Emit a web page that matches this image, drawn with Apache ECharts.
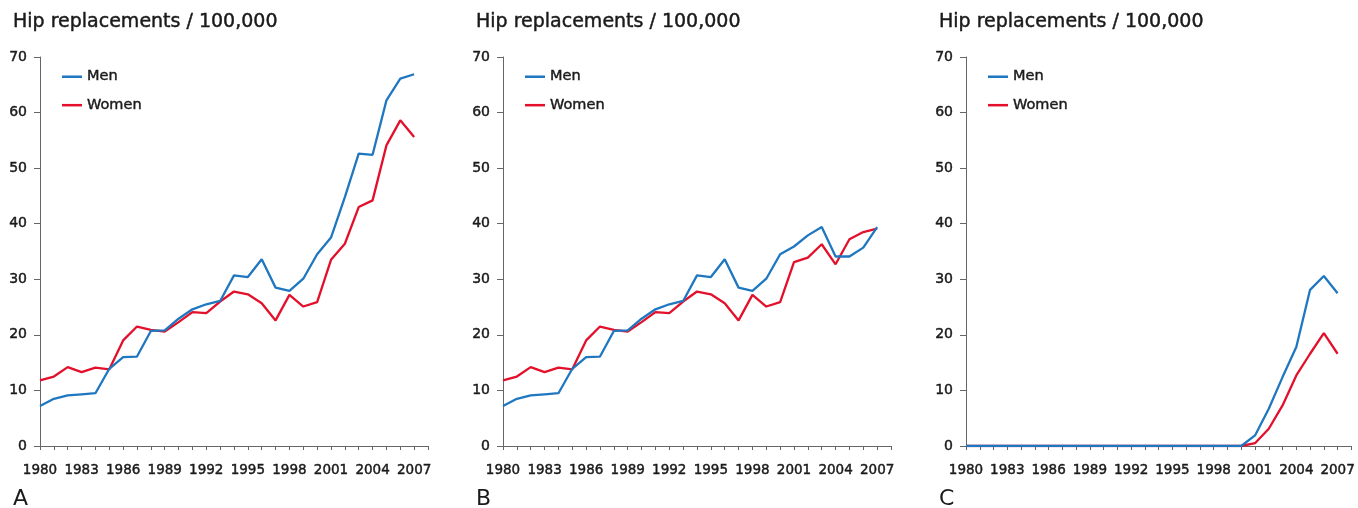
<!DOCTYPE html>
<html>
<head>
<meta charset="utf-8">
<script src="https://cdn.jsdelivr.net/npm/echarts@6/dist/echarts.min.js"></script>
<style>
html,body{margin:0;padding:0;background:#fff;}
#chart{width:1358px;height:508px;}
</style>
</head>
<body>
<div id="chart"></div>
<script>
// ---- data ----
const years = [1980,1981,1982,1983,1984,1985,1986,1987,1988,1989,1990,1991,1992,1993,1994,1995,1996,1997,1998,1999,2000,2001,2002,2003,2004,2005,2006,2007];
const panelLabels = ['A', 'B', 'C'];
const titleText = 'Hip replacements / 100,000';
const seriesNames = ['Men', 'Women'];

const menA   = [7.2,8.5,9.1,9.3,9.5,13.9,16.0,16.1,20.7,20.8,22.9,24.6,25.5,26.1,30.7,30.4,33.6,28.5,27.9,30.1,34.5,37.5,44.8,52.6,52.4,62.2,66.1,66.9];
const womenA = [11.8,12.5,14.2,13.3,14.1,13.8,19.0,21.5,20.9,20.6,22.3,24.1,23.9,26.0,27.8,27.3,25.7,22.6,27.2,25.1,25.9,33.5,36.4,43.0,44.2,54.1,58.6,55.6];

const menB   = [7.2,8.5,9.1,9.3,9.5,13.9,16.0,16.1,20.7,20.8,22.9,24.6,25.5,26.1,30.7,30.4,33.6,28.5,27.9,30.1,34.5,35.9,37.9,39.4,34.1,34.1,35.7,39.4];
const womenB = [11.8,12.5,14.2,13.3,14.1,13.8,19.0,21.5,20.9,20.6,22.3,24.1,23.9,26.0,27.8,27.3,25.7,22.6,27.2,25.1,25.9,33.1,33.9,36.3,32.7,37.2,38.5,39.1];

const menC   = [0,0,0,0,0,0,0,0,0,0,0,0,0,0,0,0,0,0,0,0,0,1.9,6.7,12.4,17.8,28.1,30.6,27.5];
const womenC = [0,0,0,0,0,0,0,0,0,0,0,0,0,0,0,0,0,0,0,0,0,0.5,3.1,7.3,12.7,16.6,20.3,16.6];

const yTicks = [0,10,20,30,40,50,60,70];

// ---- layout ----
const panels = [
  {left: 40,  men: menA, women: womenA, titleX: 8,   legendX: 62},
  {left: 503, men: menB, women: womenB, titleX: 471, legendX: 525},
  {left: 966, men: menC, women: womenC, titleX: 934, legendX: 988}
];
const gridW = 388, gridTop = 57, gridH = 389;
const blue = '#1f77c0', red = '#e3102b';
const font = 'DejaVu Sans';
const axisColor = '#666';
const txt = '#1a1a1a';
const bold = {textBorderColor: txt, textBorderWidth: 0.45};

const pairs = arr => years.map((y, i) => [y, arr[i]]);

const option = {
  backgroundColor: '#fff',
  animation: false,
  title: [],
  legend: [],
  grid: [],
  xAxis: [],
  yAxis: [],
  series: []
};

panels.forEach((p, k) => {
  option.title.push({
    text: titleText, left: p.titleX, top: 8,
    textStyle: Object.assign({fontFamily: font, fontSize: 19, fontWeight: 'normal', color: txt}, bold)
  });
  option.title.push({
    text: panelLabels[k], left: p.titleX, top: 483,
    textStyle: {fontFamily: font, fontSize: 22, fontWeight: 'normal', color: txt}
  });
  option.grid.push({left: p.left, top: gridTop, width: gridW, height: gridH, containLabel: false});
  option.xAxis.push({
    type: 'value', gridIndex: k, min: 1980, max: 2008, interval: 1,
    axisLine: {show: true, lineStyle: {color: axisColor, width: 1}},
    axisTick: {show: true, inside: false, length: 4, lineStyle: {color: axisColor}},
    axisLabel: Object.assign({
      show: true, margin: 17, fontFamily: font, fontSize: 13.5, color: txt,
      showMinLabel: true, showMaxLabel: true,
      formatter: v => ((v - years[0]) % 3 === 0 && v <= years[years.length - 1]) ? String(v) : ''
    }, bold),
    splitLine: {show: false}
  });
  option.yAxis.push({
    type: 'value', gridIndex: k, min: yTicks[0], max: yTicks[yTicks.length - 1], interval: 10,
    axisLine: {show: true, lineStyle: {color: axisColor, width: 1}},
    axisTick: {show: true, inside: false, length: 6, lineStyle: {color: axisColor}},
    axisLabel: Object.assign({show: true, margin: 13, fontFamily: font, fontSize: 14, color: txt}, bold),
    splitLine: {show: false}
  });
  option.legend.push({
    data: seriesNames.map(n => ({name: n})),
    orient: 'vertical', left: p.legendX, top: 69, padding: 0,
    icon: 'rect', itemWidth: 20, itemHeight: 2.5, itemGap: 13,
    textStyle: Object.assign({fontFamily: font, fontSize: 14.5, color: txt}, bold),
    selectedMode: false
  });
  option.series.push({
    name: seriesNames[0], type: 'line', xAxisIndex: k, yAxisIndex: k,
    data: pairs(p.men), symbol: 'none', lineStyle: {color: blue, width: 2.3}, itemStyle: {color: blue}, z: 3
  });
  option.series.push({
    name: seriesNames[1], type: 'line', xAxisIndex: k, yAxisIndex: k,
    data: pairs(p.women), symbol: 'none', lineStyle: {color: red, width: 2.3}, itemStyle: {color: red}, z: 2
  });
});

const chart = echarts.init(document.getElementById('chart'), null, {renderer: 'canvas'});
chart.setOption(option);
</script>
</body>
</html>
